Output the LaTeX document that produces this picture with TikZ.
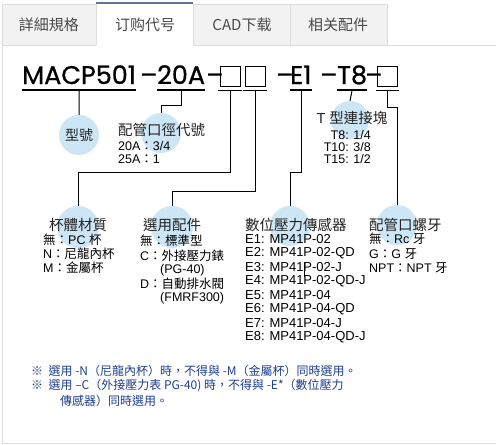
\documentclass[tikz,border=0pt]{standalone}
\usepackage{fontspec}
\setmainfont{Liberation Sans}
\newfontfamily\cjk{Noto Sans CJK TC}
\newfontfamily\codefont[FakeBold=0.8]{Poppins}
\newcommand\zh[1]{{\cjk #1}}
\definecolor{tabgray}{HTML}{F2F2F2}
\definecolor{tabline}{HTML}{DDDDDD}
\definecolor{tabtop}{HTML}{5B7794}
\definecolor{tabtxt}{HTML}{4A4A4A}
\definecolor{bubblecol}{HTML}{CDE6F6}
\definecolor{noteblue}{HTML}{1E3F8E}
\definecolor{titletxt}{HTML}{222222}
\begin{document}
\begin{tikzpicture}[x=1pt,y=-1pt,
  tabbox/.style={draw=tabline, fill=tabgray, line width=0.8pt},
  tabtext/.style={font=\cjk\fontsize{15}{16}\selectfont, text=tabtxt, inner sep=0},
  codetxt/.style={font=\codefont\fontsize{25.5}{26}\selectfont, anchor=base west, inner sep=0},
  slot/.style={draw=black, line width=0.9pt, minimum width=20pt, minimum height=20pt, inner sep=0},
  uline/.style={line width=1.3pt},
  conn/.style={line width=1pt},
  bubble/.style={circle, fill=bubblecol, minimum size=40pt, inner sep=0},
  ttl/.style={font=\cjk\fontsize{14.5}{15}\selectfont, text=titletxt, inner sep=0},
  item/.style={font=\fontsize{12.5}{13}\selectfont, inner sep=0, anchor=west},
  eitem/.style={font=\fontsize{13}{13}\selectfont, inner sep=0, anchor=west},
  note/.style={font=\cjk\fontsize{12}{14}\selectfont, text=noteblue, anchor=west, inner sep=0}
]
\useasboundingbox (0,0) rectangle (496,445);
\fill[white] (0,0) rectangle (496,445);
% tabs
\draw[tabbox] (2,45) -- (2,4) -- (96,4) -- (96,45);
\draw[tabbox] (193,45) -- (193,4) -- (290,4) -- (290,45) -- cycle;
\draw[tabbox] (290,45) -- (290,4) -- (387,4) -- (387,45) -- cycle;
\fill[white] (96,3) rectangle (193,46);
\draw[tabline, line width=0.8pt] (96,3) -- (96,45) (193,3) -- (193,45);
\draw[tabtop, line width=1.2pt] (96,3) -- (193,3);
\draw[tabline, line width=0.8pt] (2,45) -- (96,45) (193,45) -- (496,45);
\node[tabtext] (tab1) at (49,25) {詳細規格};
\node[tabtext] (tab2) at (145,25) {订购代号};
\node[tabtext] (tab3) at (242,25) {CAD下载};
\node[tabtext] (tab4) at (338,25) {相关配件};
% frame
\draw[tabline, line width=0.8pt] (2,45) -- (2,443) -- (496,443);
% code
\node[codetxt] (m) at (22,84) {MACP501};
\node[codetxt] (d1) at (140,84) {–};
\node[codetxt] (s20) at (157,84) {20A};
\node[codetxt] (d2) at (206,84) {–};
\node[slot] (b1) at (230.5,76) {};
\node[slot] (b2) at (255.5,76) {};
\node[codetxt] (d3) at (276,84) {–};
\node[codetxt] (e1) at (290,84) {E1};
\node[codetxt] (d4) at (320,84) {–};
\node[codetxt] (t8) at (337,84) {T8};
\node[codetxt] (d5) at (365,84) {–};
\node[slot] (b3) at (387.5,76) {};
% underlines
\draw[uline] ([yshift=-6pt]m.base west) -- ([yshift=-6pt]m.base east);
\draw[uline] ([yshift=-6pt]s20.base west) -- ([yshift=-6pt]s20.base east);
\draw[uline] ([yshift=-4pt,xshift=-2pt]b1.south west) -- ([yshift=-4pt,xshift=1pt]b1.south east);
\draw[uline] ([yshift=-4pt,xshift=-2pt]b2.south west) -- ([yshift=-4pt,xshift=1pt]b2.south east);
\draw[uline] ([yshift=-6pt]e1.base west) -- ([yshift=-6pt]e1.base east);
\draw[uline] ([yshift=-6pt]t8.base west) -- ([yshift=-6pt]t8.base east);
\draw[uline] ([yshift=-4pt,xshift=-1pt]b3.south west) -- ([yshift=-4pt,xshift=1pt]b3.south east);
% bubbles
\node[bubble, ttl, font=\cjk\fontsize{14}{15}\selectfont] (c1) at (79,135) {型號};
\node[bubble] (c2) at (161,133) {};
\node[bubble, minimum size=42pt] (c3) at (78,227) {};
\node[bubble, minimum size=42pt] (c4) at (172,227) {};
\node[bubble] (c5) at (290,226) {};
\node[bubble, minimum size=38pt] (c6) at (350,120) {};
\node[bubble] (c7) at (397,225) {};
% connectors
\draw[conn] ([yshift=-6pt]m.base) -- (c1.north);
\draw[conn] ([yshift=-6pt]s20.base) -- ++(0,15) -| (c2.north);
\draw[conn] ([yshift=-4pt]b1.south) -- ++(0,82) -| (c3.north);
\draw[conn] ([yshift=-4pt]b2.south) -- ++(0,101) -| (c4.north);
\draw[conn] ([yshift=-6pt,xshift=1pt]e1.base) -- ++(0,82) -| (c5.north);
\draw[conn] ([yshift=-6pt]t8.base) -- (c6.north);
\draw[conn] ([yshift=-4pt]b3.south) -- ++(0,17) -| (c7.north);
% group 2
\node[ttl, anchor=west] (t2) at (118,130) {配管口徑代號};
\node[item] (i21) at (118,146.5) {20A\zh{：}3/4};
\node[item] (i22) at (118,159.5) {25A\zh{：}1};
% group 3
\node[ttl] (t3) at (78,225) {杯體材質};
\node[item] (i31) at (43,240) {\zh{無：}PC \zh{杯}};
\node[item] (i32) at (43,254) {N\zh{：尼龍內杯}};
\node[item] (i33) at (43,268) {M\zh{：金屬杯}};
% group 4
\node[ttl] (t4) at (172,225) {選用配件};
\node[item] (i41) at (140,241) {\zh{無：標準型}};
\node[item] (i42) at (140,255.5) {C\zh{：外接壓力錶}};
\node[item] (i43) at (160,270) {(PG-40)};
\node[item] (i44) at (140,284) {D\zh{：自動排水閥}};
\node[item] (i45) at (160,298) {(FMRF300)};
% group 5
\node[ttl, anchor=west] (t5) at (245,225) {數位壓力傳感器};
\node[eitem] (e51) at (245,239) {E1: MP41P-02};
\node[eitem] (e52) at (245,253) {E2: MP41P-02-QD};
\node[eitem] (e53) at (245,267) {E3: MP41P-02-J};
\node[eitem] (e54) at (245,281) {E4: MP41P-02-QD-J};
\node[eitem] (e55) at (245,295) {E5: MP41P-04};
\node[eitem] (e56) at (245,309) {E6: MP41P-04-QD};
\node[eitem] (e57) at (245,323) {E7: MP41P-04-J};
\node[eitem] (e58) at (245,337) {E8: MP41P-04-QD-J};
\coordinate (s1) at (304,262);
\coordinate (s2) at (304,277);
\draw[conn, line width=0.8pt] (s1) -- (s2);
% group 6
\node[ttl] (t6) at (352,118) {\fontspec{Liberation Sans}T \zh{型連接塊}};
\node[item, anchor=east] (i61) at (371,135) {T8: 1/4};
\node[item, anchor=east] (i62) at (371,147) {T10: 3/8};
\node[item, anchor=east] (i63) at (371,159) {T15: 1/2};
% group 7
\node[ttl, anchor=west] (t7) at (369,225) {配管口螺牙};
\node[item] (i71) at (369,239) {\zh{無：}Rc \zh{牙}};
\node[item] (i72) at (369,254) {G\zh{：}G \zh{牙}};
\node[item] (i73) at (369,268) {NPT\zh{：}NPT \zh{牙}};
% notes
\node[note] (n1) at (31,371) {※\ \ 選用 -N（尼龍內杯）時，不得與 -M（金屬杯）同時選用。};
\node[note] (n2) at (31,386) {※\ \ 選用 –C（外接壓力表 PG-40) 時，不得與 -E*（數位壓力};
\node[note] (n3) at (60,401) {傳感器）同時選用。};
\end{tikzpicture}
\end{document}
